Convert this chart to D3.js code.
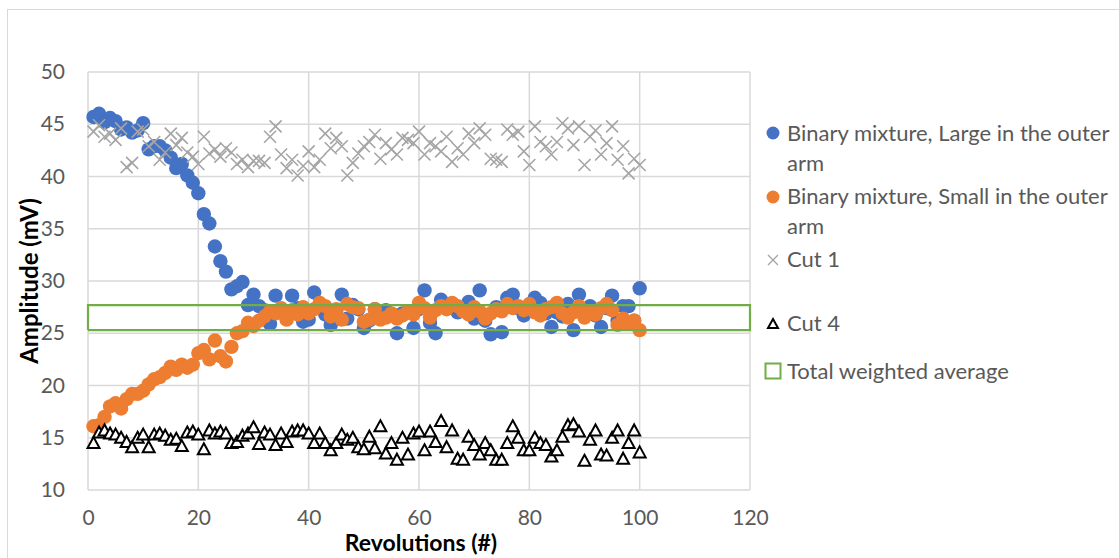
<!DOCTYPE html>
<html lang="en">
<head>
<meta charset="utf-8">
<title>Amplitude vs revolutions</title>
<script src="https://cdn.jsdelivr.net/npm/d3@7"></script>
<style>
  body { margin: 0; background: #fff; }
  svg { display: block; font-family: Lato, "Open Sans", sans-serif; }
</style>
</head>
<body>
<script>
// data, x = revolution 1..100
var large = [45.7,46.0,45.2,45.6,45.3,44.5,44.7,44.2,44.4,45.1,
             42.6,42.9,42.9,42.5,41.8,40.8,41.2,40.1,39.4,38.4,
             36.4,35.5,33.3,31.9,30.9,29.2,29.5,29.9,27.7,28.7,
             27.6,27.2,25.9,28.6,27.0,26.5,28.6,27.4,26.1,26.3,
             28.9,27.5,26.8,25.8,27.2,28.7,26.4,27.7,27.3,25.5,
             26.2,27.3,26.6,27.2,26.8,25.0,26.9,27.0,25.5,27.3,
             29.1,26.0,25.0,28.2,27.6,27.8,27.0,27.3,28.0,26.4,
             29.1,26.2,24.9,27.5,25.1,28.4,28.7,27.4,26.7,27.6,
             28.4,27.9,26.9,25.6,27.0,26.6,27.8,25.3,28.7,26.9,
             27.6,26.7,25.6,27.4,28.6,26.2,27.6,27.6,26.2,29.3];
var small = [16.1,16.2,17.0,18.0,18.3,17.8,18.7,19.2,19.2,19.5,
             20.1,20.6,20.8,21.2,21.8,21.5,22.0,21.7,22.0,23.1,
             23.4,22.5,24.3,22.8,22.3,23.7,25.0,25.2,26.0,25.7,
             26.2,26.6,27.1,26.9,27.4,26.3,27.2,26.8,27.5,26.9,
             27.3,27.9,27.6,26.6,27.3,26.3,27.8,27.5,27.4,26.1,
             26.3,27.3,26.3,26.5,26.9,26.4,26.7,27.1,26.8,27.9,
             27.4,26.5,27.2,27.6,27.3,27.9,27.6,27.1,26.8,27.5,
             27.1,26.4,26.9,27.3,27.1,27.8,27.4,27.6,27.2,27.8,
             27.0,26.7,27.3,27.5,27.9,26.9,26.5,27.0,27.6,26.5,
             27.0,26.8,27.4,27.8,27.2,25.8,26.4,25.9,26.2,25.3];
var cut1 = [44.3,44.9,43.8,44.1,43.5,44.6,40.9,41.3,44.3,44.5,
            42.9,43.3,41.6,42.3,44.1,43.0,43.7,42.3,41.9,41.2,
            43.8,42.2,42.6,41.9,42.7,42.3,41.2,41.6,40.9,41.5,
            41.5,41.3,43.8,44.8,42.1,40.8,41.6,40.1,41.0,42.4,
            40.9,41.6,44.1,42.7,43.7,42.9,40.1,41.3,42.2,42.9,
            43.3,44.0,41.7,43.2,42.6,42.1,43.7,43.5,43.2,44.3,
            42.1,43.2,42.9,42.4,43.8,41.4,42.7,42.1,44.1,43.2,
            44.6,44.0,41.7,41.6,41.4,44.5,44.0,44.3,42.4,41.1,
            44.8,43.3,42.9,42.1,43.3,45.1,44.6,43.0,44.8,41.1,
            43.8,44.4,42.1,43.2,44.8,41.6,42.9,40.3,41.7,41.1];
var cut4 = [14.5,15.5,15.7,15.4,15.3,15.0,14.6,14.1,15.0,15.3,
            14.1,15.3,15.4,15.2,14.8,14.9,14.2,15.5,15.6,15.3,
            13.9,15.7,15.4,15.6,15.4,14.5,14.6,15.2,15.4,16.0,
            14.4,15.5,15.3,14.3,15.4,14.6,15.6,15.7,15.7,15.4,
            14.5,15.4,14.5,13.8,14.5,15.3,14.8,15.0,14.1,13.9,
            15.1,14.0,16.1,13.5,14.5,12.9,15.0,13.4,15.4,15.6,
            13.8,15.6,14.6,16.6,14.1,15.7,13.0,12.9,15.1,14.3,
            13.4,14.5,13.8,12.9,12.9,14.5,16.1,15.0,13.8,13.8,
            15.0,14.5,14.3,13.2,13.8,15.1,16.2,16.3,15.6,12.8,
            14.8,15.7,13.4,13.3,15.0,15.7,13.0,14.5,15.7,13.6];
// total weighted average band, drawn as a closed line
var avgX = [0, 120, 120, 0, 0];
var avgY = [25.3, 25.3, 27.7, 27.7, 25.3];

var xTicks = [0, 20, 40, 60, 80, 100, 120];
var yTicks = [10, 15, 20, 25, 30, 35, 40, 45, 50];

var W = 1119, H = 558;
var pLeft = 88, pRight = 750, pTop = 72, pBottom = 490;
var grid = "#d9d9d9", txt = "#595959";

var svg = d3.select("body").append("svg").attr("width", W).attr("height", H);

// chart frame (only left & top edge visible)
svg.append("rect").attr("x", 7.5).attr("y", 9.5).attr("width", 1130).attr("height", 570)
  .attr("fill", "none").attr("stroke", grid).attr("stroke-width", 1);

var x = d3.scaleLinear().domain([0, 120]).range([pLeft, pRight]);
var y = d3.scaleLinear().domain([10, 50]).range([pBottom, pTop]);

// gridlines
svg.append("g").selectAll("line").data(yTicks).enter().append("line")
  .attr("x1", pLeft).attr("x2", pRight)
  .attr("y1", function(d) { return y(d); }).attr("y2", function(d) { return y(d); })
  .attr("stroke", grid).attr("stroke-width", 1.5);
svg.append("g").selectAll("line").data(xTicks).enter().append("line")
  .attr("y1", pTop).attr("y2", pBottom)
  .attr("x1", function(d) { return x(d); }).attr("x2", function(d) { return x(d); })
  .attr("stroke", grid).attr("stroke-width", 1.5);

// axes, labels only
var yAxis = svg.append("g").attr("transform", "translate(" + (pLeft - 23) + ",0)")
  .call(d3.axisLeft(y).tickValues(yTicks).tickSize(0).tickPadding(0));
var xAxis = svg.append("g").attr("transform", "translate(0," + (pBottom + 20) + ")")
  .call(d3.axisBottom(x).tickValues(xTicks).tickSize(0).tickPadding(0));
[xAxis, yAxis].forEach(function(a) {
  a.select(".domain").remove();
  a.selectAll("text").attr("fill", txt).style("font-size", "21px")
    .style("font-family", "Lato, 'Open Sans', sans-serif");
});
xAxis.selectAll("text").attr("dy", "0.71em");

svg.append("text").attr("x", 421).attr("y", 551)
  .attr("text-anchor", "middle").attr("font-weight", "bold").attr("font-size", 23)
  .attr("fill", "#000").text("Revolutions (#)");
svg.append("text").attr("transform", "translate(38,281) rotate(-90)")
  .attr("text-anchor", "middle").attr("font-weight", "bold").attr("font-size", 24)
  .attr("fill", "#000").text("Amplitude (mV)");

// series
function pts(arr) { return arr.map(function(v, i) { return { x: i + 1, y: v }; }); }

svg.append("g").selectAll("circle").data(pts(large)).enter().append("circle")
  .attr("cx", function(d) { return x(d.x); }).attr("cy", function(d) { return y(d.y); })
  .attr("r", 7.2).attr("fill", "#4472c4");

svg.append("g").selectAll("circle").data(pts(small)).enter().append("circle")
  .attr("cx", function(d) { return x(d.x); }).attr("cy", function(d) { return y(d.y); })
  .attr("r", 7.2).attr("fill", "#ed7d31");

var cross = "M-6,-6L6,6M-6,6L6,-6";
svg.append("g").selectAll("path").data(pts(cut1)).enter().append("path")
  .attr("transform", function(d) { return "translate(" + x(d.x) + "," + y(d.y) + ")"; })
  .attr("d", cross).attr("stroke", "#a5a5a5").attr("stroke-width", 1.6).attr("fill", "none");

var tri = "M0,-6L6,5L-6,5Z";
svg.append("g").selectAll("path").data(pts(cut4)).enter().append("path")
  .attr("transform", function(d) { return "translate(" + x(d.x) + "," + y(d.y) + ")"; })
  .attr("d", tri).attr("stroke", "#000").attr("stroke-width", 2).attr("fill", "#fff");

var band = avgX.map(function(v, i) { return [x(v), y(avgY[i])]; });
svg.append("path").attr("d", d3.line()(band))
  .attr("fill", "none").attr("stroke", "#70ad47").attr("stroke-width", 2.2);

// legend
var lg = svg.append("g").attr("font-size", 22).attr("fill", txt);
var lx = 773, tx = 787;
function label(lines, base) {
  var t = lg.append("text").attr("x", tx).attr("y", base);
  lines.forEach(function(s, i) {
    t.append("tspan").attr("x", tx).attr("y", base + i * 29.5).text(s);
  });
}
lg.append("circle").attr("cx", lx).attr("cy", 133).attr("r", 6.5).attr("fill", "#4472c4");
label(["Binary mixture, Large in the outer", "arm"], 141);
lg.append("circle").attr("cx", lx).attr("cy", 197).attr("r", 6.5).attr("fill", "#ed7d31");
label(["Binary mixture, Small in the outer", "arm"], 204);
lg.append("path").attr("transform", "translate(" + lx + ",260)").attr("d", "M-5,-5L5,5M-5,5L5,-5")
  .attr("stroke", "#a5a5a5").attr("stroke-width", 1.4);
label(["Cut 1"], 267);
lg.append("path").attr("transform", "translate(" + lx + ",324)").attr("d", "M0,-5L5,4L-5,4Z")
  .attr("stroke", "#000").attr("stroke-width", 2).attr("fill", "#fff");
label(["Cut 4"], 331);
lg.append("rect").attr("x", lx - 7.5).attr("y", 363.5).attr("width", 15).attr("height", 15)
  .attr("fill", "none").attr("stroke", "#70ad47").attr("stroke-width", 2);
label(["Total weighted average"], 379);
</script>
</body>
</html>
